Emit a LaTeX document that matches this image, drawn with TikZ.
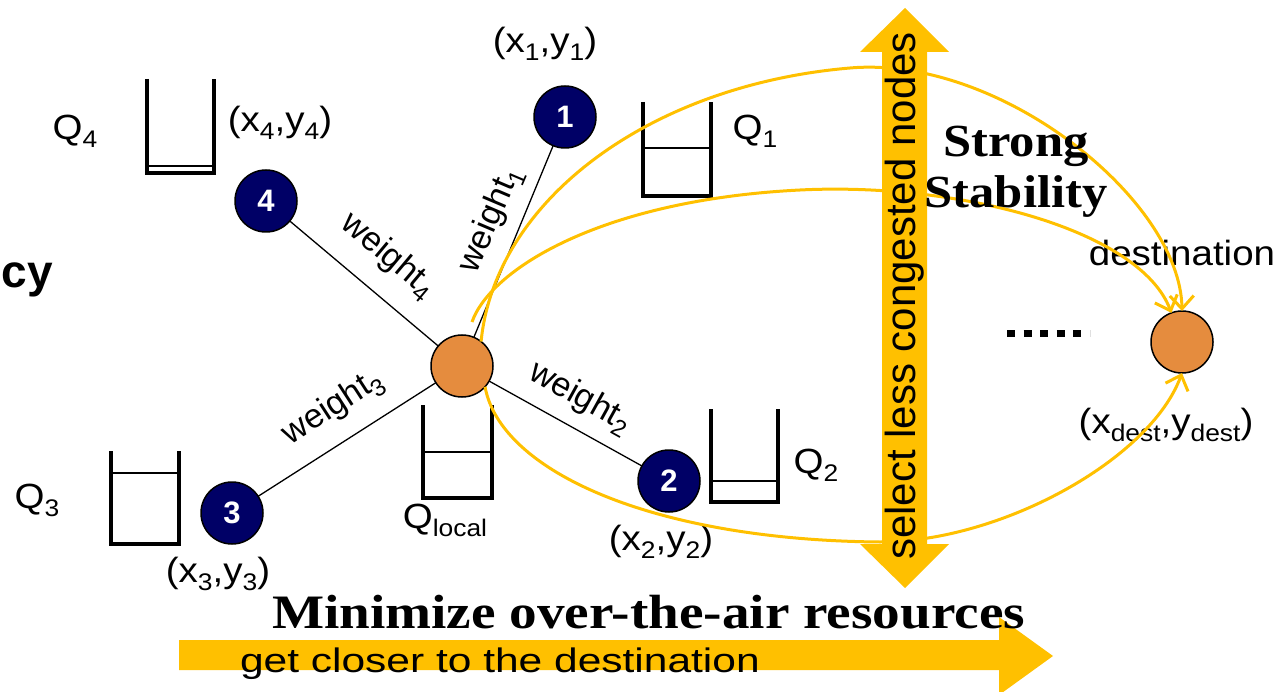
\documentclass[tikz,border=0pt]{standalone}
\usepackage{fontspec}
\setmainfont{Liberation Sans}
\newfontfamily\posterfont{Liberation Serif}
\usetikzlibrary{arrows.meta}
\definecolor{navy}{HTML}{000066}
\definecolor{peerorange}{HTML}{E58C3E}
\definecolor{gold}{HTML}{FFC000}
% lowered, smaller index for coordinates and queue names
\newcommand\lowsub[1]{\raisebox{-8pt}{\fontsize{24}{24}\selectfont #1}}

\begin{document}
\begin{tikzpicture}[x=1pt,y=-1pt,
  every node/.style={inner sep=0pt, outer sep=0pt},
  lbl/.style={font=\fontsize{35}{35}\selectfont, xscale=1.1, anchor=base},
  wlbl/.style={font=\fontsize{34}{34}\selectfont},
  relay/.style={circle, minimum size=62pt, fill=navy, draw=black, line width=1.5pt,
    text=white, font=\bfseries\fontsize{31}{31}\selectfont},
  localnode/.style={circle, minimum size=62pt, fill=peerorange, draw=black, line width=1.5pt},
  link/.style={line width=1.3pt},
  cup/.style={line width=4pt, line join=miter},
  level/.style={line width=2pt},
  flow/.style={gold, line width=3pt, -{Straight Barb[length=13pt,width=24pt,line width=3pt]}},
  headline/.style={font=\posterfont\bfseries\fontsize{46}{46}\selectfont, xscale=1.1, anchor=base},
]
\useasboundingbox (0,0) rectangle (1284,692);

% queues (open cups with their fill level)
\draw[cup] (147,79) -- (147,173) -- (214,173) -- (214,79);
\draw[level] (147,166) -- (214,166);
\draw[cup] (643,102) -- (643,196) -- (711,196) -- (711,102);
\draw[level] (643,148) -- (711,148);
\draw[cup] (111,451) -- (111,544) -- (179,544) -- (179,451);
\draw[level] (111,473) -- (179,473);
\draw[cup] (423,405) -- (423,498) -- (492,498) -- (492,405);
\draw[level] (423,452) -- (492,452);
\draw[cup] (711,409) -- (711,502) -- (778,502) -- (778,409);
\draw[level] (711,481) -- (778,481);

% nodes
\node[localnode] (loc) at (462,366) {};
\node[relay] (n1) at (565,117) {1};
\node[relay] (n2) at (669,481) {2};
\node[relay] (n3) at (232,513) {3};
\node[relay] (n4) at (266,201) {4};
\node[localnode] (dst) at (1182,342) {};

% links to the neighbours
\draw[link] (loc) -- (n1);
\draw[link] (loc) -- (n2);
\draw[link] (loc) -- (n3);
\draw[link] (loc) -- (n4);

% link weights
\node[wlbl, rotate=67] (w1) at (491,220) {weight\lowsub{1}};
\node[wlbl, rotate=-40] (w4) at (388,256) {weight\lowsub{4}};
\node[wlbl, rotate=33] (w3) at (333,408) {weight\lowsub{3}};
\node[wlbl, rotate=-29] (w2) at (580,398) {weight\lowsub{2}};

% labels
\node[lbl] (c1) at (545,53) {(x\lowsub{1},y\lowsub{1})};
\node[lbl] (c4) at (280,132) {(x\lowsub{4},y\lowsub{4})};
\node[lbl] (c3) at (218,582) {(x\lowsub{3},y\lowsub{3})};
\node[lbl] (c2) at (661,550) {(x\lowsub{2},y\lowsub{2})};
\node[lbl] (cd) at (1166,433) {(x\lowsub{dest},y\lowsub{dest})};
\node[lbl] (q4) at (75,140) {Q\lowsub{4}};
\node[lbl] (q1) at (755,140) {Q\lowsub{1}};
\node[lbl] (q3) at (37,508) {Q\lowsub{3}};
\node[lbl] (q2) at (816,473) {Q\lowsub{2}};
\node[lbl] (ql) at (445,528) {Q\lowsub{local}};
\node[lbl] (dl) at (1182,266) {destination};
\node[font=\bfseries\fontsize{46}{46}\selectfont, anchor=base east] (cy) at (53,288) {cy};

% more hops towards the destination
\draw[line width=7pt, dash pattern=on 8pt off 8.6pt] (1007,333) -- (1090,333);

% candidate routes
\coordinate (r2) at (472,322);
\draw[flow] (loc.52) .. controls (495,200) and (650,85) .. (850,68)
  .. controls (1000,55) and (1180,200) .. (dst.north);
\draw[flow] (r2) .. controls (490,270) and (600,200) .. (800,190)
  .. controls (960,182) and (1140,230) .. (dst.110);
\draw[flow] (loc.-42) .. controls (500,470) and (650,540) .. (880,542)
  .. controls (1000,542) and (1150,460) .. (dst.south);

% vertical double arrow
\fill[gold] (905,8) -- (949,52) -- (927,52) -- (927,544) -- (949,544) -- (905,588)
  -- (860,544) -- (882,544) -- (882,52) -- (860,52) -- cycle;
\node[rotate=90, font=\fontsize{42}{42}\selectfont] (sel) at (905,296) {select less congested nodes};

% horizontal arrow
\fill[gold] (179,640) -- (999,640) -- (999,617) -- (1053,656) -- (999,695) -- (999,670)
  -- (179,670) -- cycle;
\node[font=\fontsize{34}{34}\selectfont, xscale=1.25, anchor=base west] (gc) at (240,672) {get closer to the destination};

% headlines
\node[headline] (s1) at (1016,157) {Strong};
\node[headline] (s2) at (1016,208) {Stability};
\node[font=\posterfont\bfseries\fontsize{48}{48}\selectfont, xscale=1.15, anchor=base west] (mz) at (272,628) {Minimize over-the-air resources};
\end{tikzpicture}
\end{document}
